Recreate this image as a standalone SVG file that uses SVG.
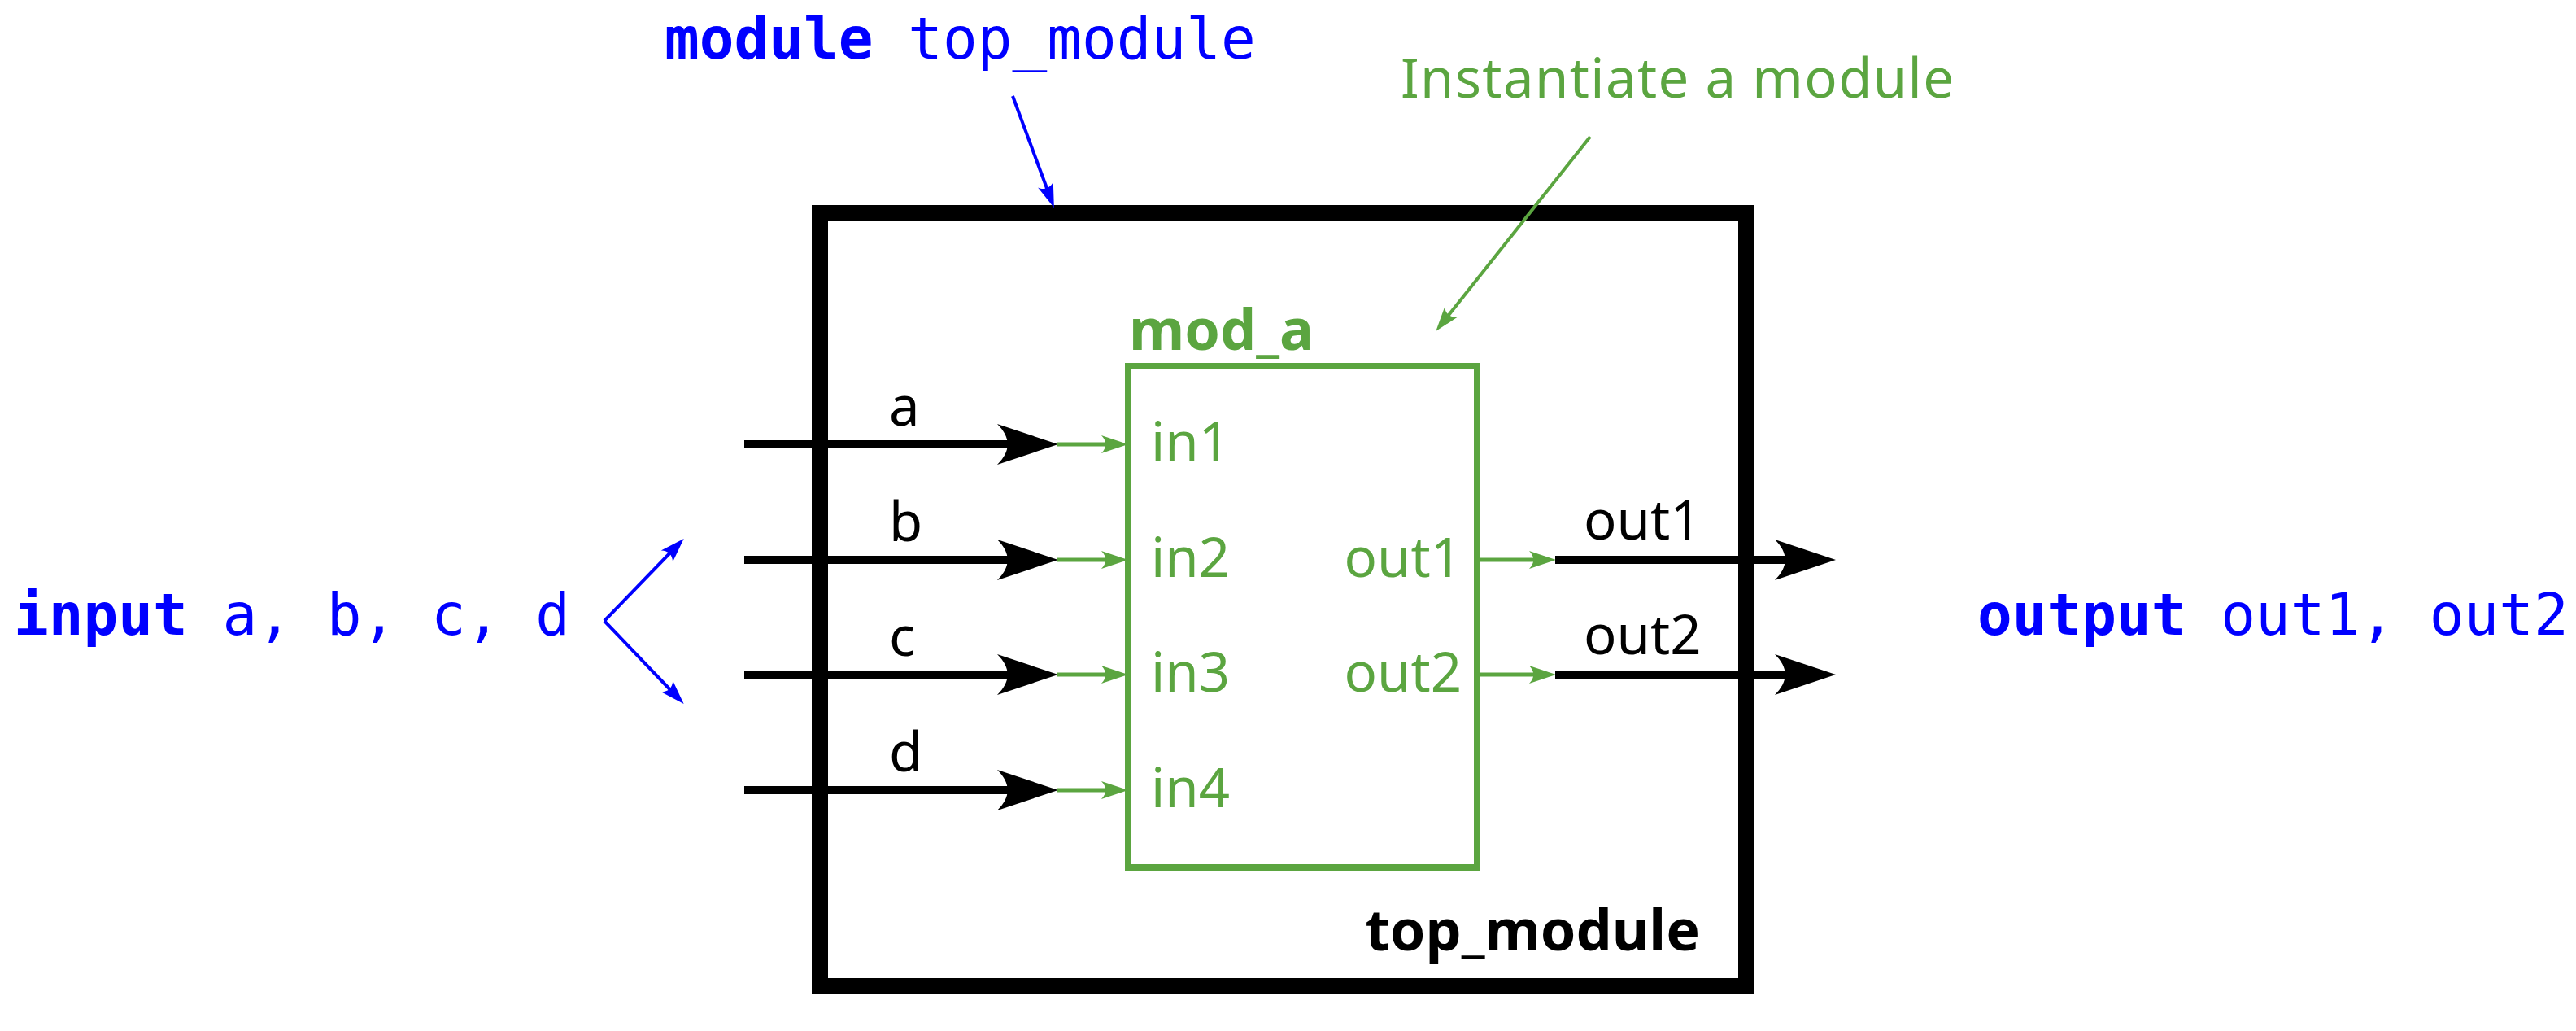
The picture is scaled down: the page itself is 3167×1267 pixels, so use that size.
<svg xmlns="http://www.w3.org/2000/svg" width="3167" height="1267" viewBox="0 0 3167 1267">
  <style>
    .code { font-family: "DejaVu Sans Mono", "Liberation Mono", monospace; font-size: 71px; fill: #0000ff; }
    .kw { font-weight: bold; }
    .sans { font-family: "Noto Sans", "Open Sans", "DejaVu Sans", sans-serif; font-size: 67px; }
    .title { font-size: 70px; font-weight: bold; }
    .green { fill: #5ba540; }
    .black { fill: #000000; }
    .wire { stroke: #000000; stroke-width: 10; fill: none; }
    .port { stroke: #5ba540; stroke-width: 5; fill: none; }
    .note-blue { stroke: #0000ff; stroke-width: 4; fill: none; }
    .note-green { stroke: #5ba540; stroke-width: 4; fill: none; }
  </style>
  <defs>
    <!-- big black signal arrowhead; tip lies 45 beyond the line end -->
    <marker id="arrowBlack" markerUnits="userSpaceOnUse" viewBox="-80 -30 85 60" markerWidth="85" markerHeight="60" refX="-45" refY="0" orient="auto">
      <path d="M0,0 L-75,-25 C-58,-8 -58,8 -75,25 Z" fill="#000000"/>
    </marker>
    <!-- small green port arrowhead -->
    <marker id="arrowGreen" markerUnits="userSpaceOnUse" viewBox="-36 -13 40 26" markerWidth="40" markerHeight="26" refX="-16" refY="0" orient="auto">
      <path d="M0,0 L-33,-11 C-26,-4 -26,4 -33,11 Z" fill="#5ba540"/>
    </marker>
    <!-- annotation arrowheads -->
    <marker id="arrowBlueNote" markerUnits="userSpaceOnUse" viewBox="-34 -12 38 24" markerWidth="38" markerHeight="24" refX="-14" refY="0" orient="auto">
      <path d="M0,0 L-30,-10 C-24,-4 -24,4 -30,10 Z" fill="#0000ff"/>
    </marker>
    <marker id="arrowGreenNote" markerUnits="userSpaceOnUse" viewBox="-34 -12 38 24" markerWidth="38" markerHeight="24" refX="-14" refY="0" orient="auto">
      <path d="M0,0 L-30,-10 C-24,-4 -24,4 -30,10 Z" fill="#5ba540"/>
    </marker>
  </defs>

  <rect x="0" y="0" width="3167" height="1267" fill="#ffffff"/>

  <!-- outer module -->
  <g id="top_module">
    <rect x="1008" y="262" width="1139" height="950" fill="none" stroke="#000000" stroke-width="20"/>
    <text class="sans black title" x="2090" y="1168" text-anchor="end">top_module</text>
  </g>

  <!-- instantiated sub-module -->
  <g id="mod_a">
    <rect x="1387" y="450" width="429" height="616" fill="none" stroke="#5ba540" stroke-width="8"/>
    <text class="sans green title" x="1388" y="430">mod_a</text>
    <text class="sans green" x="1415" y="567">in1</text>
    <text class="sans green" x="1415" y="709">in2</text>
    <text class="sans green" x="1415" y="850">in3</text>
    <text class="sans green" x="1415" y="992">in4</text>
    <text class="sans green" x="1797" y="709" text-anchor="end">out1</text>
    <text class="sans green" x="1797" y="850" text-anchor="end">out2</text>
  </g>

  <!-- declarations -->
  <g id="decl_module">
    <text class="code" x="817" y="72"><tspan class="kw">module</tspan> top_module</text>
  </g>
  <g id="decl_inputs">
    <text class="code" x="17" y="780"><tspan class="kw">input</tspan> a, b, c, d</text>
  </g>
  <g id="decl_outputs">
    <text class="code" x="2431" y="780"><tspan class="kw">output</tspan> out1, out2</text>
  </g>
  <g id="note_instantiate">
    <text class="sans green" x="1722" y="120" textLength="680" lengthAdjust="spacing">Instantiate a module</text>
  </g>

  <!-- signal names -->
  <g id="signal_labels">
    <text class="sans black" x="1093" y="523">a</text>
    <text class="sans black" x="1093" y="665">b</text>
    <text class="sans black" x="1093" y="806">c</text>
    <text class="sans black" x="1093" y="948">d</text>
    <text class="sans black" x="1947" y="663">out1</text>
    <text class="sans black" x="1947" y="804">out2</text>
  </g>

  <!-- wires and annotation arrows -->
  <g id="connectors">
    <line class="wire" x1="915" y1="546" x2="1256" y2="546" marker-end="url(#arrowBlack)"/>
    <line class="wire" x1="915" y1="688" x2="1256" y2="688" marker-end="url(#arrowBlack)"/>
    <line class="wire" x1="915" y1="829" x2="1256" y2="829" marker-end="url(#arrowBlack)"/>
    <line class="wire" x1="915" y1="971" x2="1256" y2="971" marker-end="url(#arrowBlack)"/>

    <line class="port" x1="1300" y1="546" x2="1371" y2="546" marker-end="url(#arrowGreen)"/>
    <line class="port" x1="1300" y1="688" x2="1371" y2="688" marker-end="url(#arrowGreen)"/>
    <line class="port" x1="1300" y1="829" x2="1371" y2="829" marker-end="url(#arrowGreen)"/>
    <line class="port" x1="1300" y1="971" x2="1371" y2="971" marker-end="url(#arrowGreen)"/>

    <line class="port" x1="1816" y1="688" x2="1897" y2="688" marker-end="url(#arrowGreen)"/>
    <line class="port" x1="1816" y1="829" x2="1897" y2="829" marker-end="url(#arrowGreen)"/>

    <line class="wire" x1="1912" y1="688" x2="2212" y2="688" marker-end="url(#arrowBlack)"/>
    <line class="wire" x1="1912" y1="829" x2="2212" y2="829" marker-end="url(#arrowBlack)"/>

    <line class="note-blue" x1="1245" y1="118" x2="1291" y2="242" marker-end="url(#arrowBlueNote)"/>
    <line class="note-blue" x1="743" y1="763" x2="831" y2="672" marker-end="url(#arrowBlueNote)"/>
    <line class="note-blue" x1="743" y1="763" x2="831" y2="855" marker-end="url(#arrowBlueNote)"/>
    <line class="note-green" x1="1955" y1="168" x2="1774" y2="396" marker-end="url(#arrowGreenNote)"/>
  </g>
</svg>
